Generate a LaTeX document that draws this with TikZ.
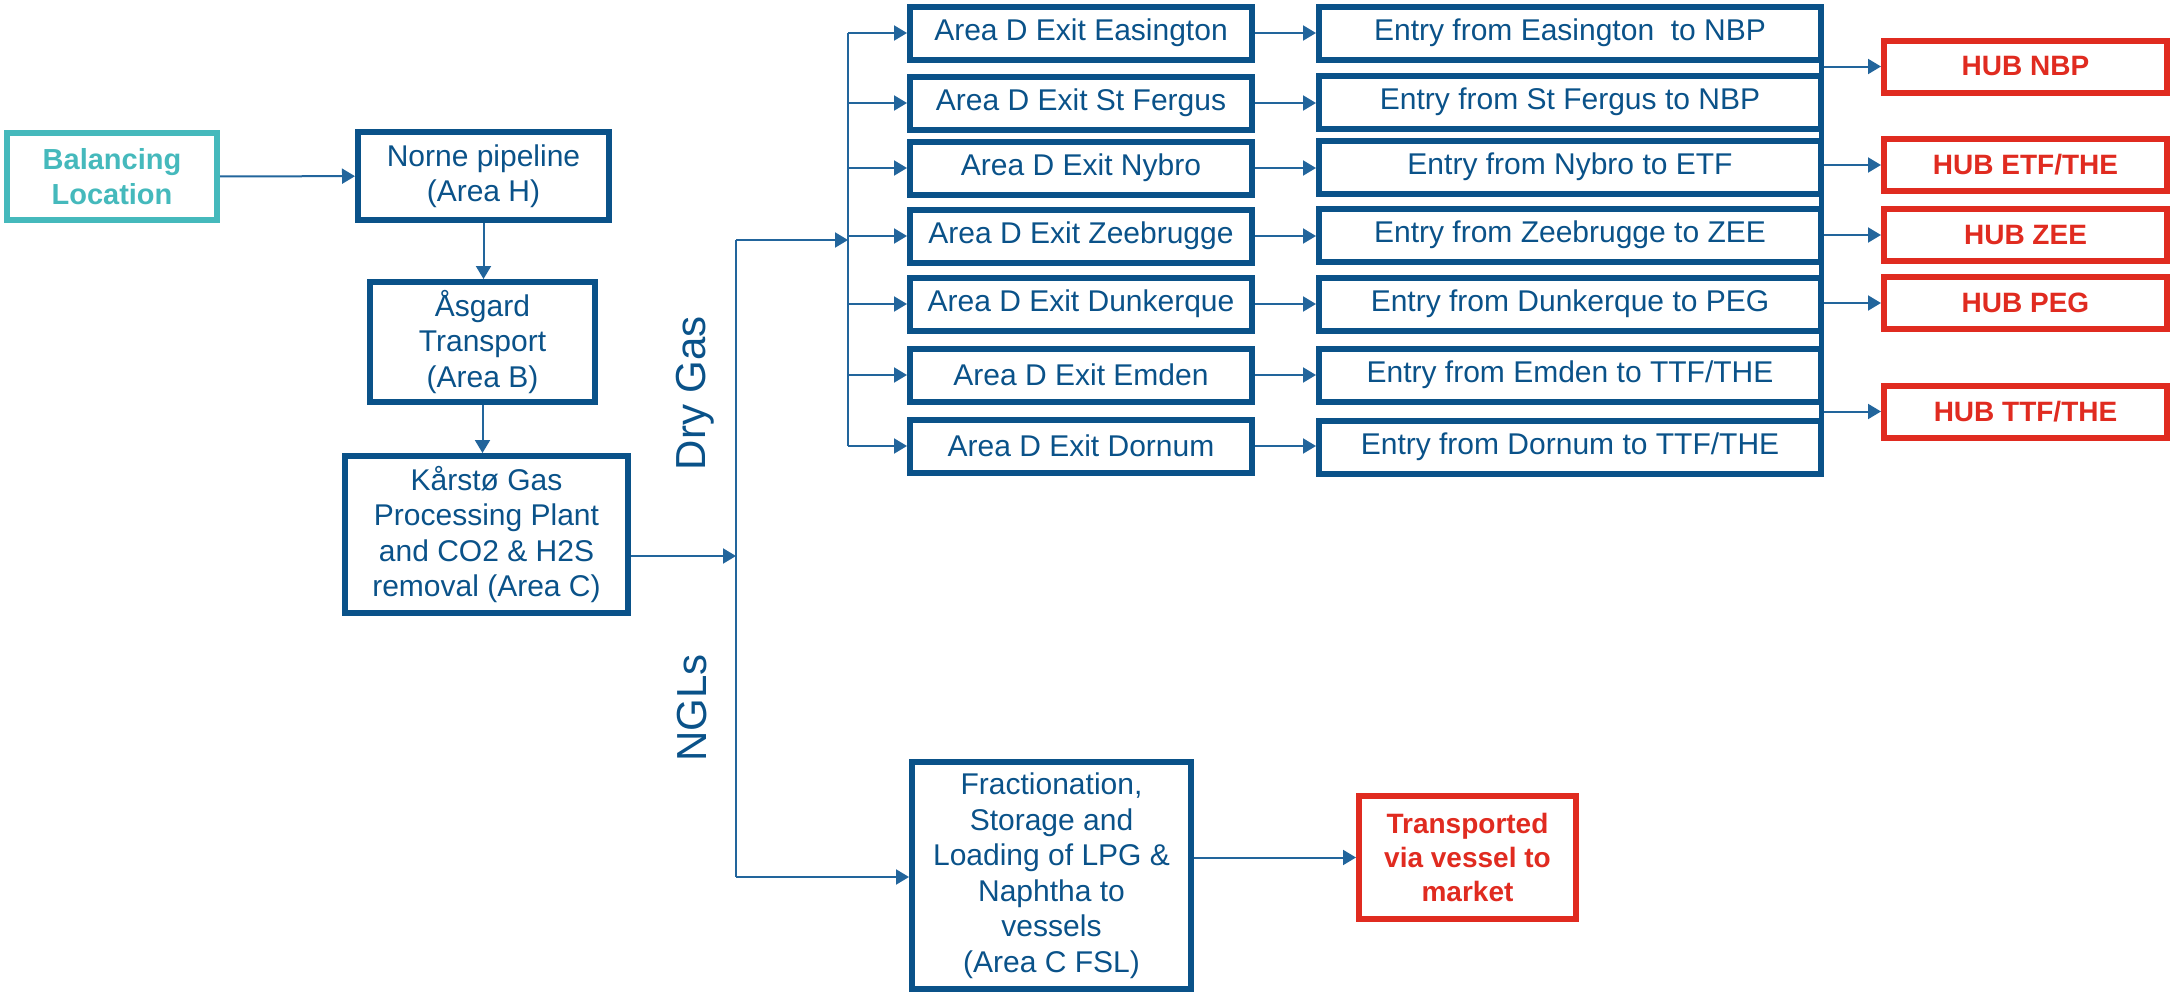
\documentclass[tikz,border=0pt]{standalone}
\usepackage{fontspec}
\setmainfont{Liberation Sans}
\usetikzlibrary{arrows.meta,calc}
\definecolor{dblue}{HTML}{0A5289}
\definecolor{lblue}{HTML}{22659C}
\definecolor{balteal}{HTML}{45B9BC}
\definecolor{hubred}{HTML}{E02B20}
\begin{document}
\begin{tikzpicture}[x=1pt,y=-1pt,
  basebox/.style={rectangle, line width=6pt, inner sep=0pt, align=center},
  bluebox/.style={basebox, draw=dblue, text=dblue, font=\fontsize{30}{35.5}\selectfont},
  redbox/.style={basebox, draw=hubred, text=hubred, font=\bfseries\fontsize{28}{34}\selectfont},
  tealbox/.style={basebox, draw=balteal, text=balteal, font=\bfseries\fontsize{29}{35}\selectfont},
  adbox/.style={bluebox, minimum width=342pt, minimum height=53pt},
  enbox/.style={bluebox, minimum width=502pt, minimum height=53pt},
  hubbox/.style={redbox, minimum width=283pt, minimum height=52pt},
  conn/.style={draw=lblue, line width=2pt},
  arr/.style={conn, -{Triangle[length=13pt,width=15pt]}},
  flowlabel/.style={rotate=90, text=dblue, inner sep=0pt, font=\fontsize{42}{50}\selectfont}
]
\useasboundingbox (0,0) rectangle (2177,994);

% left chain
\node[tealbox, minimum width=210pt, minimum height=87pt] (bal) at (112,176.5) {Balancing\\Location};
\node[bluebox, minimum width=251pt, minimum height=88pt] (norne) at (483.5,176) {Norne pipeline\\(Area H)};
\node[bluebox, minimum width=225pt, minimum height=120pt] (asg) at (482.5,342) {Åsgard\\Transport\\(Area B)};
\node[bluebox, minimum width=283pt, minimum height=157pt] (kar) at (486.5,534.5) {Kårstø Gas\\Processing Plant\\and CO2 \& H2S\\removal (Area C)};

% labels
\node[flowlabel] (dry) at (695,393) {Dry Gas};
\node[flowlabel] (ngl) at (692,708) {NGLs};

% Area D exits
\node[adbox] (A1) at (1081,33) {Area D Exit Easington};
\node[adbox] (A2) at (1081,103) {Area D Exit St Fergus};
\node[adbox] (A3) at (1081,168) {Area D Exit Nybro};
\node[adbox] (A4) at (1081,236) {Area D Exit Zeebrugge};
\node[adbox] (A5) at (1081,304) {Area D Exit Dunkerque};
\node[adbox] (A6) at (1081,375) {Area D Exit Emden};
\node[adbox] (A7) at (1081,446) {Area D Exit Dornum};

% entries
\node[enbox] (E1) at (1570,33) {Entry from Easington~ to NBP};
\node[enbox] (E2) at (1570,102) {Entry from St Fergus to NBP};
\node[enbox] (E3) at (1570,167) {Entry from Nybro to ETF};
\node[enbox] (E4) at (1570,235) {Entry from Zeebrugge to ZEE};
\node[enbox] (E5) at (1570,304) {Entry from Dunkerque to PEG};
\node[enbox] (E6) at (1570,375) {Entry from Emden to TTF/THE};
\node[enbox] (E7) at (1570,447) {Entry from Dornum to TTF/THE};

% hubs
\node[hubbox] (H1) at (2025.5,66.5) {HUB NBP};
\node[hubbox] (H2) at (2025.5,165) {HUB ETF/THE};
\node[hubbox] (H3) at (2025.5,235) {HUB ZEE};
\node[hubbox] (H4) at (2025.5,303) {HUB PEG};
\node[hubbox] (H5) at (2025.5,411.5) {HUB TTF/THE};

% NGL branch
\node[bluebox, minimum width=279pt, minimum height=227pt] (frac) at (1051.5,875.5) {Fractionation,\\Storage and\\Loading of LPG \&\\Naphtha to\\vessels\\(Area C FSL)};
\node[redbox, minimum width=217pt, minimum height=123pt] (trans) at (1467.5,857.5) {Transported\\via vessel to\\market};

% junction coordinates
\coordinate (J) at (736,556);
\coordinate (Jtop) at (736,240);
\coordinate (Jbot) at (736,877);
\coordinate (T) at (848,240);
\coordinate (fo) at (1194,857.5);

% connectors
\draw[arr] (bal) -- (norne);
\draw[arr] (norne.south) -- (norne.south |- asg.north);
\draw[arr] (asg.south) -- (asg.south |- kar.north);
\draw[arr] (kar.east |- J) -- (J);
\draw[conn] (Jtop) -- (Jbot);
\draw[arr] (Jtop) -- (T);
\draw[arr] (Jbot) -- (Jbot -| frac.west);
\draw[arr] (fo -| frac.east) -- (trans.west);

\draw[conn] (A1.west -| T) -- (A7.west -| T);
\foreach \i in {1,...,7}{
  \draw[arr] (A\i.west -| T) -- (A\i.west);
  \draw[arr] (A\i.east) -- (A\i.east -| E\i.west);
}
\draw[dblue, line width=5pt] ([xshift=-3pt,yshift=-3pt]E1.north east) -- ([xshift=-3pt,yshift=3pt]E7.south east);
\foreach \i in {1,...,5}{
  \draw[arr] (H\i.west -| E1.east) -- (H\i.west);
}
\end{tikzpicture}
\end{document}
